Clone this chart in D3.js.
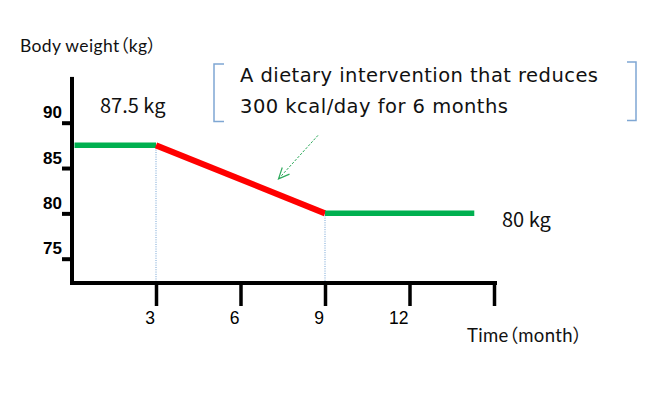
<!DOCTYPE html>
<html>
<head>
<meta charset="utf-8">
<script src="https://cdn.jsdelivr.net/npm/d3@7"></script>
<style>
  html, body { margin: 0; padding: 0; background: #fff; }
  svg { display: block; }
  .cjk-tight { font-feature-settings: "palt" 1; letter-spacing: 0.35px; }
</style>
</head>
<body>
<svg id="chart" width="650" height="415"></svg>
<script>
// ---- data ----
const months = [0, 3, 9, 14.3];          // phase boundaries (month)
const weights = [87.5, 87.5, 80, 80];     // body weight (kg)
const phases = ["before", "diet", "after"];
const yTicks = [75, 80, 85, 90];
const xTicks = [3, 6, 9, 12, 15];
const xTickLabels = ["3", "6", "9", "12", ""];
const labelStart = "87.5 kg";
const labelEnd = "80 kg";
const yTitle = "Body weight（kg）";
const xTitle = "Time（month）";
const annotationLines = ["A dietary intervention that reduces", "300 kcal/day for 6 months"];

const svg = d3.select("#chart");
const x = d3.scaleLinear().domain([0, 15]).range([71.5, 494]);
const y = d3.scaleLinear().domain([75, 90]).range([258.7, 122.7]);

const xAxisY = 283, yAxisX = 72;
const black = "#000";

// dotted guides
[months[1], months[2]].forEach((m, i) => {
  const w = i === 0 ? weights[1] : weights[2];
  svg.append("line")
    .attr("x1", x(m)).attr("x2", x(m))
    .attr("y1", y(w) + 2).attr("y2", xAxisY)
    .attr("stroke", "#6fa0d2").attr("stroke-width", 1)
    .attr("stroke-dasharray", "1,1.3");
});

// y axis via d3
const yAxis = d3.axisLeft(y).tickValues(yTicks).tickSize(10).tickSizeOuter(0).tickFormat(d3.format("d"));
const gy = svg.append("g").attr("transform", `translate(${yAxisX},0)`).call(yAxis);
gy.select(".domain").remove();
gy.selectAll(".tick line").attr("stroke", black).attr("stroke-width", 4);
gy.selectAll(".tick text")
  .attr("x", -10).attr("dy", "-0.28em")
  .attr("font-family", "'Liberation Sans', Arial, sans-serif")
  .attr("font-size", 17).attr("font-weight", "bold").attr("fill", black);

// x axis via d3
const xAxis = d3.axisBottom(x).tickValues(xTicks).tickSize(23).tickSizeOuter(0)
  .tickFormat((d, i) => xTickLabels[i]);
const gx = svg.append("g").attr("transform", `translate(0,${xAxisY})`).call(xAxis);
gx.select(".domain").remove();
gx.selectAll(".tick line").attr("stroke", black).attr("stroke-width", 3.5);
gx.selectAll(".tick text")
  .attr("y", 41).attr("dy", 0).attr("x", -1.5).attr("text-anchor", "end")
  .attr("font-family", "'Liberation Sans', Arial, sans-serif")
  .attr("font-size", 17.5).attr("fill", black);

// axis lines
svg.append("line").attr("x1", yAxisX).attr("x2", yAxisX)
  .attr("y1", y(95.05)).attr("y2", xAxisY + 2)
  .attr("stroke", black).attr("stroke-width", 4);
svg.append("line").attr("x1", yAxisX - 2).attr("x2", x(15) + 3)
  .attr("y1", xAxisY).attr("y2", xAxisY)
  .attr("stroke", black).attr("stroke-width", 4);

// weight segments
const colors = { before: "#00b050", diet: "#ff0000", after: "#00b050" };
phases.forEach((p, i) => {
  svg.append("line")
    .attr("x1", i === 0 ? x(months[i]) + 3 : x(months[i]))
    .attr("x2", x(months[i + 1]))
    .attr("y1", y(weights[i])).attr("y2", y(weights[i + 1]))
    .attr("stroke", colors[p])
    .attr("stroke-width", p === "diet" ? 6 : 5.5);
});

// value labels
const humanist = "'Noto Sans CJK JP', 'Open Sans', sans-serif";
svg.append("text").attr("x", 100).attr("y", 113)
  .attr("font-family", humanist).attr("font-size", 20).attr("fill", "#111")
  .text(labelStart);
svg.append("text").attr("x", 502).attr("y", 227)
  .attr("font-family", humanist).attr("font-size", 20).attr("fill", "#111")
  .text(labelEnd);

// axis titles (Latin in Lato, full-width parentheses from Noto CJK with proportional widths)
svg.append("text").attr("class", "cjk-tight").attr("x", 20).attr("y", 52)
  .attr("font-family", "Lato, 'Noto Sans CJK JP', sans-serif")
  .attr("font-size", 17.5).attr("fill", "#111").text(yTitle);
svg.append("text").attr("class", "cjk-tight").attr("x", 467).attr("y", 342)
  .attr("font-family", "Lato, 'Noto Sans CJK JP', sans-serif")
  .attr("font-size", 18.5).attr("fill", "#111").text(xTitle);

// annotation brackets
const bracketColor = "#7fa7d3";
svg.append("path")
  .attr("d", "M224,64 H214 V121.5 H224")
  .attr("fill", "none").attr("stroke", bracketColor).attr("stroke-width", 1.5);
svg.append("path")
  .attr("d", "M627,62 H636 V120.5 H627")
  .attr("fill", "none").attr("stroke", bracketColor).attr("stroke-width", 1.5);

// annotation text
const annLengths = [358, 268];
annotationLines.forEach((t, i) => {
  svg.append("text").attr("x", 240).attr("y", 82 + i * 31)
    .attr("font-family", "'DejaVu Sans', sans-serif")
    .attr("font-size", 19.5).attr("fill", "#111")
    .attr("textLength", annLengths[i]).attr("lengthAdjust", "spacing")
    .text(t);
});

// dashed arrow
const a0 = [x(8.75), y(88.6)], a1 = [x(7.35), y(83.8)];
svg.append("line")
  .attr("x1", a0[0]).attr("y1", a0[1]).attr("x2", a1[0]).attr("y2", a1[1])
  .attr("stroke", "#2eaa5c").attr("stroke-width", 1).attr("stroke-dasharray", "2.5,1.5");
const ang = Math.atan2(a1[1] - a0[1], a1[0] - a0[0]);
const hl = 12, spread = 0.42;
const p1 = [a1[0] - hl * Math.cos(ang - spread), a1[1] - hl * Math.sin(ang - spread)];
const p2 = [a1[0] - hl * Math.cos(ang + spread), a1[1] - hl * Math.sin(ang + spread)];
svg.append("path")
  .attr("d", `M${p1[0]},${p1[1]} L${a1[0]},${a1[1]} L${p2[0]},${p2[1]}`)
  .attr("fill", "none").attr("stroke", "#2eaa5c").attr("stroke-width", 1.2);
</script>
</body>
</html>
